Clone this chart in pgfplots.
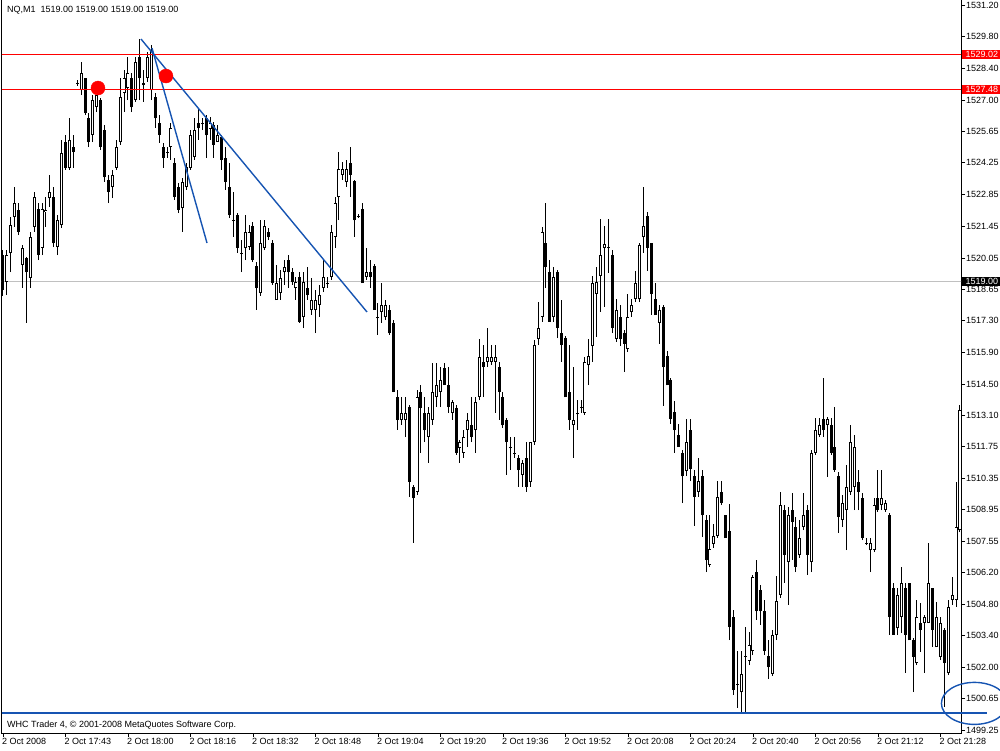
\documentclass[border=0pt]{standalone}
\usepackage{pgfplots}
\pgfplotsset{compat=1.18}
\usepackage{pgfplotstable}
\usepackage{fontspec}
\setmainfont{Liberation Sans}

\definecolor{mtblue}{RGB}{22,84,178}
\definecolor{mtgray}{RGB}{192,192,192}
\definecolor{mtred}{RGB}{255,0,0}

% NQ M1 bars, 2 Oct 2008: bar index, open, high, low, close
\pgfplotstableread{
i o h l c
0 1520.18 1520.40 1518.38 1518.64
1 1518.99 1520.40 1518.42 1520.18
2 1520.27 1521.86 1519.43 1521.50
3 1521.86 1523.18 1521.42 1522.47
4 1522.17 1522.47 1521.06 1521.20
5 1519.74 1520.62 1518.73 1520.49
6 1520.05 1520.09 1517.19 1519.43
7 1519.17 1521.20 1518.73 1520.98
8 1521.42 1522.96 1521.20 1522.74
9 1522.21 1522.47 1519.96 1520.18
10 1520.49 1522.47 1520.18 1522.21
11 1522.08 1522.74 1521.42 1522.17
12 1522.69 1523.71 1522.30 1522.96
13 1522.74 1523.18 1520.53 1520.71
14 1520.53 1521.95 1520.18 1521.72
15 1521.50 1525.25 1521.37 1524.68
16 1525.16 1525.47 1523.93 1524.02
17 1524.02 1526.22 1523.93 1525.25
18 1524.94 1525.47 1524.02 1524.72
19 1527.76 1527.89 1527.63 1527.74
20 1527.45 1528.69 1527.23 1528.20
21 1527.98 1527.98 1526.35 1526.44
22 1526.22 1526.44 1524.94 1525.16
23 1525.47 1527.23 1525.16 1527.01
24 1526.70 1527.23 1526.48 1527.23
25 1527.01 1527.10 1524.81 1524.94
26 1525.69 1525.91 1523.40 1523.62
27 1523.49 1523.71 1522.47 1522.96
28 1523.18 1523.93 1522.69 1523.71
29 1524.02 1525.25 1523.93 1524.94
30 1525.16 1527.98 1525.03 1527.15
31 1527.32 1528.34 1526.48 1527.98
32 1527.54 1528.91 1527.01 1528.20
33 1527.98 1528.20 1526.48 1526.70
34 1527.01 1528.91 1526.93 1528.69
35 1528.91 1529.70 1527.01 1527.98
36 1527.76 1528.34 1526.93 1527.67
37 1527.98 1529.13 1527.81 1528.91
38 1527.45 1529.44 1527.01 1529.22
39 1527.15 1527.32 1525.78 1526.22
40 1526.00 1526.35 1525.12 1525.47
41 1524.94 1525.12 1524.02 1524.46
42 1524.72 1524.94 1524.46 1524.68
43 1524.94 1526.00 1524.37 1525.78
44 1524.24 1524.46 1522.61 1522.74
45 1523.18 1523.36 1522.03 1522.17
46 1522.25 1523.58 1521.20 1523.40
47 1523.18 1524.24 1523.05 1524.06
48 1524.02 1525.69 1523.93 1525.47
49 1524.50 1526.22 1524.37 1525.69
50 1526.00 1526.66 1525.25 1525.78
51 1526.00 1526.22 1525.69 1525.96
52 1526.22 1526.35 1524.46 1525.47
53 1525.73 1526.26 1525.25 1526.00
54 1525.91 1526.04 1524.46 1525.03
55 1525.16 1525.91 1525.16 1525.47
56 1525.38 1525.47 1523.93 1524.37
57 1524.46 1524.94 1523.05 1523.40
58 1523.18 1524.24 1521.81 1521.95
59 1521.72 1522.96 1520.98 1521.68
60 1521.95 1522.03 1520.27 1520.49
61 1520.27 1520.84 1519.43 1520.23
62 1520.49 1521.95 1519.96 1521.20
63 1520.53 1521.50 1520.40 1521.20
64 1521.46 1521.64 1519.87 1519.96
65 1519.70 1519.87 1517.76 1518.73
66 1518.51 1521.72 1518.38 1520.71
67 1520.49 1521.72 1520.40 1521.46
68 1521.20 1521.37 1520.84 1520.98
69 1520.71 1520.84 1518.86 1518.95
70 1518.20 1519.74 1518.20 1518.95
71 1518.51 1519.52 1518.20 1519.17
72 1519.43 1519.96 1518.86 1519.65
73 1519.96 1520.18 1518.73 1519.43
74 1519.43 1519.61 1518.86 1518.99
75 1518.73 1519.21 1518.20 1518.99
76 1519.21 1519.43 1517.19 1517.23
77 1517.45 1519.43 1516.96 1518.99
78 1518.73 1519.65 1518.20 1518.42
79 1517.76 1519.17 1517.54 1518.20
80 1517.76 1518.64 1516.74 1518.20
81 1517.98 1518.86 1517.45 1518.42
82 1518.73 1519.96 1518.55 1519.21
83 1518.95 1519.21 1518.73 1518.90
84 1519.21 1521.50 1519.08 1521.20
85 1520.98 1522.74 1520.49 1522.47
86 1522.74 1524.72 1521.72 1523.97
87 1523.71 1524.28 1523.49 1523.97
88 1523.40 1524.37 1523.18 1523.97
89 1524.24 1524.94 1522.74 1523.71
90 1523.44 1523.49 1520.98 1521.72
91 1521.90 1521.99 1521.81 1521.86
92 1522.21 1522.47 1518.95 1518.95
93 1519.21 1520.49 1519.08 1519.43
94 1519.43 1519.96 1518.73 1519.21
95 1519.70 1519.79 1517.76 1517.76
96 1517.45 1518.07 1516.66 1517.40
97 1517.67 1518.95 1517.19 1517.98
98 1517.45 1518.20 1517.32 1517.98
99 1517.76 1517.98 1516.66 1516.74
100 1517.19 1517.32 1514.14 1514.14
101 1513.92 1514.23 1512.47 1512.91
102 1512.91 1513.92 1512.69 1513.22
103 1512.91 1513.92 1512.16 1513.22
104 1513.48 1513.57 1509.52 1510.18
105 1509.96 1510.05 1507.49 1509.47
106 1509.74 1514.23 1509.61 1513.92
107 1514.14 1514.45 1511.46 1513.44
108 1513.22 1513.92 1511.94 1512.47
109 1512.16 1513.48 1511.02 1513.22
110 1512.91 1515.42 1512.69 1514.14
111 1513.92 1515.42 1513.48 1514.45
112 1514.14 1515.25 1513.48 1514.67
113 1515.20 1515.42 1514.45 1514.45
114 1514.45 1515.25 1513.22 1513.48
115 1513.22 1513.79 1512.91 1513.70
116 1513.44 1513.57 1511.37 1511.46
117 1511.68 1512.03 1511.02 1511.94
118 1511.46 1512.47 1511.24 1512.16
119 1512.47 1513.22 1511.72 1512.91
120 1512.69 1513.92 1511.94 1512.16
121 1512.47 1513.92 1511.46 1513.70
122 1513.92 1516.48 1513.79 1515.69
123 1515.47 1516.22 1513.92 1515.25
124 1515.47 1516.96 1515.25 1515.69
125 1515.47 1516.22 1515.33 1515.69
126 1515.47 1516.22 1513.22 1515.69
127 1515.25 1515.47 1512.91 1514.14
128 1513.92 1514.14 1512.56 1512.69
129 1512.91 1513.00 1510.49 1511.94
130 1511.72 1512.16 1510.71 1511.68
131 1511.46 1512.16 1511.24 1511.41
132 1511.24 1511.37 1509.96 1510.71
133 1510.49 1511.15 1509.96 1511.02
134 1511.24 1511.94 1509.74 1509.96
135 1510.18 1511.94 1509.96 1511.94
136 1511.94 1516.44 1511.81 1516.22
137 1516.48 1518.11 1516.22 1516.96
138 1517.45 1521.42 1517.23 1521.20
139 1520.71 1522.47 1518.73 1519.65
140 1519.43 1519.96 1517.23 1517.23
141 1517.45 1519.65 1517.23 1519.21
142 1519.43 1519.52 1516.52 1516.96
143 1516.74 1518.20 1515.47 1516.22
144 1516.52 1516.61 1513.92 1513.92
145 1514.14 1516.22 1512.47 1512.91
146 1512.69 1515.25 1511.24 1512.91
147 1513.22 1513.79 1512.47 1513.17
148 1513.48 1513.79 1513.22 1513.44
149 1513.22 1515.69 1513.13 1515.47
150 1515.33 1516.48 1514.45 1515.73
151 1516.17 1519.26 1515.47 1518.95
152 1518.46 1519.65 1516.57 1518.99
153 1519.26 1521.77 1517.67 1520.18
154 1520.49 1521.46 1517.89 1520.67
155 1520.53 1521.77 1519.39 1520.49
156 1520.18 1520.40 1516.74 1516.96
157 1516.48 1518.24 1516.35 1517.76
158 1517.45 1517.98 1516.17 1516.48
159 1516.74 1516.88 1515.03 1516.26
160 1516.04 1518.46 1515.91 1517.45
161 1517.67 1518.24 1517.45 1517.98
162 1518.24 1519.48 1518.11 1518.95
163 1518.24 1520.71 1518.11 1520.62
164 1520.98 1523.18 1520.27 1521.46
165 1521.90 1522.08 1519.48 1520.49
166 1520.71 1520.71 1517.54 1518.46
167 1518.24 1518.95 1517.54 1517.54
168 1517.19 1517.98 1516.26 1517.76
169 1517.89 1517.98 1513.53 1515.25
170 1515.73 1515.95 1514.45 1514.45
171 1514.67 1514.76 1512.73 1512.95
172 1513.26 1513.75 1511.46 1512.47
173 1512.25 1512.73 1511.72 1511.72
174 1511.46 1511.59 1509.25 1510.44
175 1510.66 1512.95 1510.44 1511.94
176 1512.47 1512.95 1510.22 1510.75
177 1510.44 1510.71 1508.24 1509.52
178 1509.74 1511.24 1509.52 1510.22
179 1510.44 1510.71 1507.75 1508.72
180 1508.50 1508.72 1506.21 1506.74
181 1506.52 1508.72 1506.43 1507.23
182 1507.45 1508.33 1507.27 1507.80
183 1507.80 1510.22 1507.71 1509.52
184 1509.74 1510.22 1509.16 1509.25
185 1508.72 1508.72 1507.71 1507.71
186 1508.02 1509.21 1503.21 1503.79
187 1504.23 1504.54 1500.79 1501.01
188 1501.28 1502.73 1500.22 1501.23
189 1500.92 1502.73 1500.00 1501.72
190 1502.51 1503.79 1500.00 1502.47
191 1502.29 1503.57 1502.11 1502.99
192 1502.73 1506.08 1502.55 1505.99
193 1506.21 1506.74 1504.10 1504.49
194 1505.42 1505.64 1503.88 1504.49
195 1504.49 1504.98 1502.55 1502.73
196 1502.51 1503.21 1501.50 1502.02
197 1501.72 1503.66 1501.63 1503.44
198 1503.44 1506.04 1503.21 1504.93
199 1505.20 1509.74 1505.07 1509.16
200 1508.94 1509.16 1505.73 1506.96
201 1506.65 1509.08 1504.76 1508.72
202 1508.94 1509.69 1506.74 1508.41
203 1508.20 1508.64 1506.21 1506.43
204 1506.96 1508.50 1506.83 1507.71
205 1508.20 1509.69 1508.06 1508.72
206 1508.94 1509.16 1506.08 1506.96
207 1506.65 1511.59 1506.21 1511.46
208 1511.46 1513.00 1511.37 1512.47
209 1512.25 1513.00 1512.16 1512.69
210 1512.95 1514.76 1512.16 1512.47
211 1512.69 1513.04 1510.40 1512.95
212 1512.69 1513.00 1511.37 1511.46
213 1511.72 1513.48 1510.62 1510.71
214 1510.44 1510.62 1507.93 1508.64
215 1508.50 1509.61 1508.20 1509.25
216 1508.94 1510.93 1507.18 1509.96
217 1509.74 1512.69 1509.61 1511.94
218 1509.96 1512.25 1508.94 1511.72
219 1510.18 1510.71 1508.94 1509.74
220 1509.47 1509.69 1507.62 1507.71
221 1507.49 1507.71 1507.40 1507.45
222 1507.18 1507.71 1506.21 1507.49
223 1507.18 1509.47 1507.09 1509.16
224 1509.47 1510.71 1508.86 1508.94
225 1509.16 1510.71 1508.94 1509.47
226 1508.94 1509.38 1508.86 1509.25
227 1508.72 1508.81 1503.44 1504.23
228 1505.51 1505.73 1503.44 1503.44
229 1503.74 1505.51 1503.44 1505.20
230 1504.23 1506.43 1503.52 1505.73
231 1505.51 1505.73 1501.76 1503.44
232 1505.73 1505.73 1503.21 1503.21
233 1503.21 1503.30 1500.92 1502.47
234 1502.20 1504.98 1502.11 1504.23
235 1503.96 1504.85 1502.69 1503.66
236 1503.96 1504.32 1501.76 1504.23
237 1503.96 1507.49 1503.96 1505.73
238 1505.51 1505.51 1502.91 1503.66
239 1502.91 1504.89 1502.91 1504.23
240 1502.47 1504.23 1502.33 1503.96
241 1503.66 1503.74 1500.26 1502.20
242 1501.76 1504.98 1501.67 1504.67
243 1504.98 1505.99 1504.76 1505.20
244 1504.98 1510.18 1504.67 1508.20
245 1508.06 1513.57 1507.97 1513.35
}\bars

\begin{document}
\begin{tikzpicture}
\useasboundingbox (0pt,0pt) rectangle (1000pt,750pt);
\begin{axis}[
  name=ax,
  at={(2pt,17pt)}, anchor=south west,
  scale only axis, width=959pt, height=733pt,
  xmin=-0.256, xmax=245.27,
  ymin=1499.115, ymax=1531.42,
  clip mode=individual,
  axis line style={line width=1pt},
  tick align=outside,
  major tick length=4pt,
  tick style={black, line width=0.8pt},
  xtick pos=bottom, ytick pos=right,
  yticklabel pos=right,
  xtick={0,16,...,240},
  xticklabels={2 Oct 2008, 2 Oct 17:43, 2 Oct 18:00, 2 Oct 18:16, 2 Oct 18:32, 2 Oct 18:48, 2 Oct 19:04, 2 Oct 19:20, 2 Oct 19:36, 2 Oct 19:52, 2 Oct 20:08, 2 Oct 20:24, 2 Oct 20:40, 2 Oct 20:56, 2 Oct 21:12, 2 Oct 21:28},
  ytick={1531.20,1529.80,1528.40,1527.00,1525.65,1524.25,1522.85,1521.45,1520.05,1518.65,1517.30,1515.90,1514.50,1513.10,1511.75,1510.35,1508.95,1507.55,1506.20,1504.80,1503.40,1502.00,1500.65,1499.25},
  yticklabels={1531.20,1529.80,1528.40,1527.00,1525.65,1524.25,1522.85,1521.45,1520.05,1518.65,1517.30,1515.90,1514.50,1513.10,1511.75,1510.35,1508.95,1507.55,1506.20,1504.80,1503.40,1502.00,1500.65,1499.25},
  tick label style={font=\fontsize{9}{10}\selectfont},
  xticklabel style={anchor=north west, inner sep=0pt, xshift=-1pt, yshift=-1pt},
  yticklabel style={anchor=west, inner sep=0pt, xshift=1pt},
]
% bid line
\addplot[draw=mtgray, line width=0.8pt] coordinates {(-1,1519.00) (250,1519.00)};

% wicks
\addplot[black, line width=1pt, quiver={u=0, v=\thisrow{h}-\thisrow{l}}, -]
  table[x=i, y=l] {\bars};
% bear bodies
\addplot[black, line width=3pt, quiver={u=0, v={max(\thisrow{o}-\thisrow{c},0.044)}}, -,
  restrict expr to domain={\thisrow{o}-\thisrow{c}}{0.001:100}]
  table[x=i, y expr={(\thisrow{o}+\thisrow{c})/2-max(\thisrow{o}-\thisrow{c},0.044)/2}] {\bars};
% bull bodies: outline, then hollow inside
\addplot[black, line width=3pt, quiver={u=0, v={max(\thisrow{c}-\thisrow{o},0.044)}}, -,
  restrict expr to domain={\thisrow{c}-\thisrow{o}}{-0.0001:100}]
  table[x=i, y expr={(\thisrow{o}+\thisrow{c})/2-max(\thisrow{c}-\thisrow{o},0.044)/2}] {\bars};
\addplot[white, line width=1.2pt, quiver={u=0, v={\thisrow{c}-\thisrow{o}-0.08}}, -,
  restrict expr to domain={\thisrow{c}-\thisrow{o}}{0.09:100}]
  table[x=i, y expr={\thisrow{o}+0.04}] {\bars};

% level lines and trend lines on top of the bars
\addplot[draw=mtred, line width=1.5pt] coordinates {(-1,1529.02) (250,1529.02)};
\addplot[draw=mtred, line width=1.5pt] coordinates {(-1,1527.48) (250,1527.48)};
\addplot[draw=mtblue, line width=2pt] coordinates {(-1,1500.00) (250,1500.00)};
\addplot[draw=mtblue, line width=1.4pt] coordinates {(35.33,1529.70) (93.19,1517.67)};
\addplot[draw=mtblue, line width=1.4pt] coordinates {(38.15,1529.30) (52.23,1520.71)};

% marked points
\addplot[only marks, mark=*, mark size=7pt, mark options={draw=mtred, fill=mtred}] coordinates {(24.32,1527.54) (41.73,1528.07)};

\coordinate (lvA) at (axis cs:245.27,1529.02);
\coordinate (lvB) at (axis cs:245.27,1527.48);
\coordinate (lvC) at (axis cs:245.27,1519.00);
\coordinate (bl) at (axis cs:245.27,1500.00);
\coordinate (ell) at (axis cs:248.7,1500.42);
\end{axis}

\begin{scope}[font=\fontsize{9}{10}\selectfont]
\node[anchor=west, fill=mtred, text=white, inner xsep=4pt, inner ysep=1.5pt, minimum width=40pt, align=left] at ([xshift=0.5pt]lvA) {1529.02};
\node[anchor=west, fill=mtred, text=white, inner xsep=4pt, inner ysep=1.5pt, minimum width=40pt, align=left] at ([xshift=0.5pt]lvB) {1527.48};
\node[anchor=west, fill=black, text=white, inner xsep=4pt, inner ysep=1.5pt, minimum width=40pt, align=left] at ([xshift=0.5pt]lvC) {1519.00};
\node[anchor=west, inner sep=0pt] at (7pt,740pt) {NQ,M1\ \ 1519.00 1519.00 1519.00 1519.00};
\node[anchor=west, inner sep=0pt] at (7pt,25pt) {WHC Trader 4, © 2001-2008 MetaQuotes Software Corp.};
\end{scope}
\draw[mtblue, line width=2pt] (bl) -- ++(26pt,0pt);
\draw[mtblue, line width=1.4pt] (ell) ellipse [x radius=33pt, y radius=21pt];
\end{tikzpicture}
\end{document}
